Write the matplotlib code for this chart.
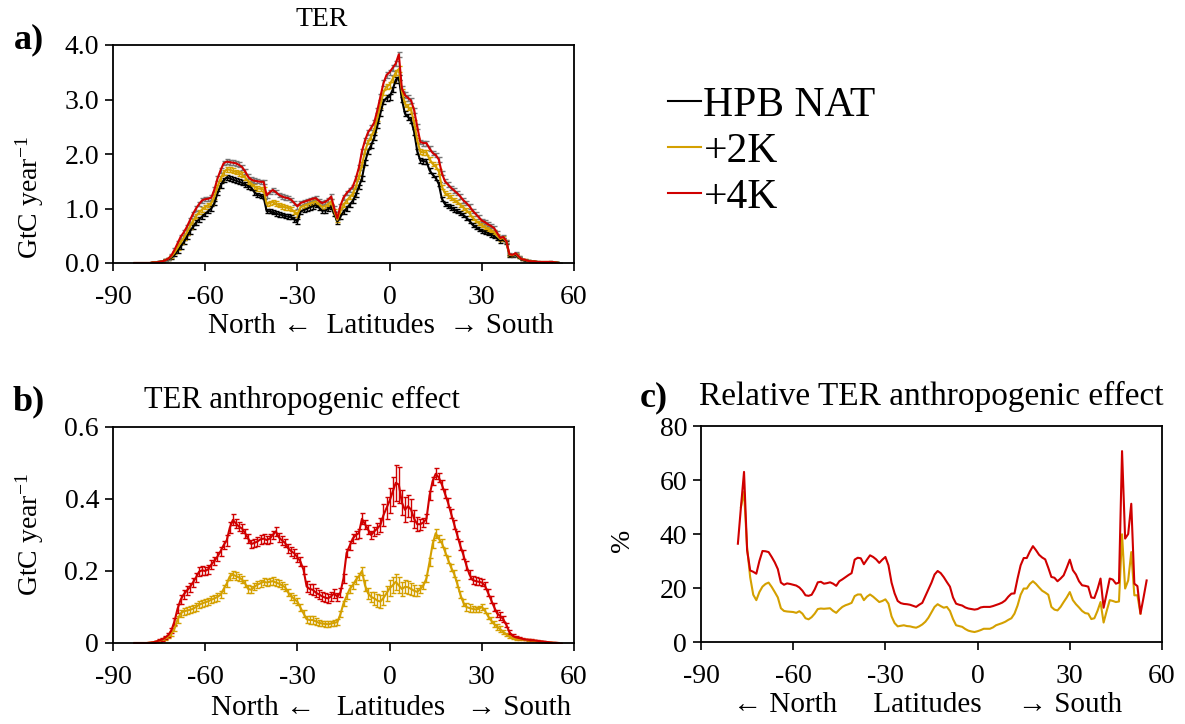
import numpy as np
import matplotlib
matplotlib.use('Agg')
import matplotlib.pyplot as plt
from matplotlib.lines import Line2D

plt.rcParams['font.family'] = ['Liberation Serif', 'DejaVu Serif']
plt.rcParams['axes.unicode_minus'] = False
plt.rcParams['mathtext.fontset'] = 'custom'
plt.rcParams['mathtext.rm'] = 'Liberation Serif'
plt.rcParams['mathtext.it'] = 'Liberation Serif:italic'

nan = np.nan

# Latitude grid (degrees)
lats = np.arange(-83, 56)

# ---- Panel a: TER (GtC year-1) ----
ter_nat = [
    0.00, 0.00, 0.00, 0.00, 0.00, 0.00, 0.01, 0.01, 0.02, 0.03,
    0.05, 0.07, 0.10, 0.15, 0.22, 0.30, 0.38, 0.48, 0.58, 0.66,
    0.74, 0.80, 0.85, 0.90, 0.95, 1.00, 1.10, 1.28, 1.42, 1.52,
    1.57, 1.55, 1.53, 1.51, 1.49, 1.47, 1.44, 1.41, 1.38, 1.30,
    1.25, 1.23, 1.21, 0.95, 0.95, 0.93, 0.91, 0.89, 0.88, 0.86,
    0.85, 0.84, 0.80, 0.76, 0.94, 0.97, 0.99, 1.02, 1.04, 1.06,
    1.02, 0.96, 0.96, 0.99, 1.03, 0.90, 0.76, 0.85, 0.94, 1.00,
    1.07, 1.14, 1.25, 1.40, 1.55, 1.85, 2.05, 2.16, 2.30, 2.52,
    2.75, 2.96, 3.03, 3.05, 3.18, 3.36, 3.40, 3.00, 2.74, 2.68,
    2.62, 2.40, 2.05, 1.88, 1.87, 1.86, 1.70, 1.62, 1.56, 1.45,
    1.18, 1.08, 1.05, 1.02, 0.98, 0.95, 0.92, 0.88, 0.83, 0.77,
    0.70, 0.66, 0.62, 0.59, 0.57, 0.55, 0.52, 0.49, 0.45, 0.41,
    0.43, 0.38, 0.13, 0.13, 0.15, 0.10, 0.06, 0.05, 0.04, 0.03,
    0.03, 0.02, 0.02, 0.01, 0.01, 0.02, 0.02, 0.01, 0.00]
ter_2k = [
    0.00, 0.00, 0.00, 0.00, 0.00, 0.00, 0.01, 0.01, 0.02, 0.03,
    0.05, 0.08, 0.12, 0.19, 0.28, 0.38, 0.46, 0.56, 0.67, 0.77,
    0.86, 0.93, 0.98, 1.03, 1.06, 1.10, 1.22, 1.40, 1.55, 1.66,
    1.72, 1.71, 1.69, 1.67, 1.65, 1.62, 1.57, 1.50, 1.46, 1.40,
    1.37, 1.36, 1.35, 1.08, 1.10, 1.12, 1.09, 1.06, 1.04, 1.02,
    1.01, 0.99, 0.94, 0.89, 1.02, 1.05, 1.07, 1.09, 1.11, 1.13,
    1.08, 1.03, 1.04, 1.08, 1.13, 0.95, 0.79, 0.95, 1.07, 1.14,
    1.21, 1.27, 1.40, 1.58, 1.80, 2.05, 2.22, 2.32, 2.44, 2.66,
    2.90, 3.13, 3.24, 3.27, 3.38, 3.50, 3.56, 3.15, 2.92, 2.86,
    2.81, 2.57, 2.25, 2.04, 2.03, 2.03, 1.90, 1.82, 1.77, 1.68,
    1.40, 1.28, 1.24, 1.20, 1.16, 1.12, 1.07, 1.02, 0.97, 0.91,
    0.83, 0.78, 0.73, 0.69, 0.66, 0.63, 0.60, 0.57, 0.50, 0.44,
    0.46, 0.39, 0.15, 0.14, 0.17, 0.11, 0.07, 0.06, 0.04, 0.03,
    0.03, 0.02, 0.02, 0.02, 0.02, 0.02, 0.02, 0.01, 0.00]
ter_4k = [
    0.00, 0.00, 0.00, 0.00, 0.00, 0.00, 0.01, 0.01, 0.02, 0.03,
    0.05, 0.08, 0.14, 0.24, 0.36, 0.48, 0.56, 0.66, 0.78, 0.90,
    1.00, 1.08, 1.15, 1.17, 1.18, 1.20, 1.35, 1.55, 1.70, 1.83,
    1.86, 1.85, 1.84, 1.83, 1.80, 1.76, 1.68, 1.58, 1.53, 1.51,
    1.50, 1.49, 1.49, 1.24, 1.30, 1.34, 1.30, 1.25, 1.22, 1.20,
    1.19, 1.16, 1.10, 1.04, 1.10, 1.12, 1.14, 1.16, 1.18, 1.19,
    1.14, 1.10, 1.12, 1.16, 1.22, 1.00, 0.82, 1.05, 1.20, 1.28,
    1.34, 1.40, 1.55, 1.75, 2.05, 2.25, 2.40, 2.48, 2.58, 2.80,
    3.05, 3.30, 3.45, 3.50, 3.58, 3.66, 3.83, 3.20, 3.08, 3.03,
    2.98, 2.80, 2.50, 2.22, 2.20, 2.20, 2.10, 2.02, 1.98, 1.90,
    1.65, 1.50, 1.44, 1.38, 1.33, 1.28, 1.22, 1.15, 1.10, 1.04,
    0.96, 0.90, 0.84, 0.78, 0.75, 0.71, 0.68, 0.64, 0.55, 0.46,
    0.48, 0.40, 0.16, 0.15, 0.18, 0.12, 0.07, 0.06, 0.04, 0.03,
    0.03, 0.02, 0.02, 0.02, 0.02, 0.02, 0.02, 0.01, 0.00]
ter_err = [
    0.0, 0.0, 0.0, 0.0, 0.0, 0.0, 0.005, 0.005, 0.01, 0.01,
    0.015, 0.02, 0.025, 0.03, 0.035, 0.04, 0.04, 0.04, 0.04, 0.04,
    0.04, 0.04, 0.04, 0.04, 0.04, 0.04, 0.04, 0.04, 0.04, 0.04,
    0.045, 0.045, 0.045, 0.045, 0.045, 0.045, 0.045, 0.045, 0.045, 0.045,
    0.04, 0.04, 0.04, 0.04, 0.04, 0.04, 0.04, 0.04, 0.04, 0.04,
    0.04, 0.04, 0.04, 0.04, 0.04, 0.04, 0.04, 0.04, 0.04, 0.04,
    0.04, 0.04, 0.04, 0.04, 0.04, 0.04, 0.04, 0.04, 0.04, 0.04,
    0.04, 0.04, 0.04, 0.04, 0.045, 0.045, 0.045, 0.045, 0.045, 0.05,
    0.05, 0.05, 0.05, 0.05, 0.05, 0.05, 0.05, 0.05, 0.05, 0.05,
    0.05, 0.05, 0.045, 0.045, 0.045, 0.045, 0.04, 0.04, 0.04, 0.04,
    0.04, 0.04, 0.04, 0.04, 0.04, 0.04, 0.04, 0.04, 0.04, 0.04,
    0.035, 0.035, 0.035, 0.035, 0.035, 0.035, 0.035, 0.035, 0.035, 0.035,
    0.03, 0.03, 0.02, 0.02, 0.02, 0.015, 0.01, 0.01, 0.01, 0.005,
    0.005, 0.005, 0.005, 0.005, 0.005, 0.005, 0.005, 0.0, 0.0]

# ---- Panel b: TER anthropogenic effect (GtC year-1) ----
eff_2k = [
    0.000, 0.000, 0.000, 0.000, 0.000, 0.001, 0.002, 0.004, 0.006, 0.009,
    0.013, 0.018, 0.026, 0.040, 0.065, 0.082, 0.088, 0.090, 0.092, 0.095,
    0.100, 0.106, 0.110, 0.113, 0.116, 0.120, 0.124, 0.128, 0.134, 0.150,
    0.165, 0.185, 0.190, 0.186, 0.182, 0.176, 0.165, 0.150, 0.148, 0.156,
    0.162, 0.166, 0.170, 0.168, 0.170, 0.172, 0.168, 0.165, 0.160, 0.155,
    0.140, 0.130, 0.122, 0.115, 0.098, 0.082, 0.066, 0.064, 0.064, 0.060,
    0.056, 0.054, 0.053, 0.052, 0.054, 0.056, 0.058, 0.080, 0.110, 0.130,
    0.150, 0.160, 0.175, 0.185, 0.200, 0.160, 0.138, 0.128, 0.124, 0.118,
    0.115, 0.125, 0.138, 0.152, 0.160, 0.170, 0.160, 0.150, 0.156, 0.155,
    0.150, 0.145, 0.142, 0.150, 0.160, 0.180, 0.225, 0.275, 0.305, 0.290,
    0.278, 0.255, 0.232, 0.210, 0.192, 0.165, 0.135, 0.112, 0.100, 0.097,
    0.095, 0.093, 0.095, 0.100, 0.090, 0.075, 0.063, 0.053, 0.045, 0.038,
    0.031, 0.024, 0.018, 0.014, 0.012, 0.011, 0.010, 0.009, 0.008, 0.007,
    0.006, 0.005, 0.004, 0.003, 0.002, 0.001, 0.001, 0.000, 0.000]
eff_4k = [
    0.000, 0.000, 0.000, 0.000, 0.000, 0.001, 0.002, 0.004, 0.007, 0.010,
    0.015, 0.022, 0.035, 0.060, 0.095, 0.120, 0.135, 0.145, 0.155, 0.168,
    0.182, 0.198, 0.202, 0.200, 0.205, 0.218, 0.228, 0.240, 0.255, 0.272,
    0.285, 0.320, 0.342, 0.332, 0.323, 0.318, 0.305, 0.290, 0.275, 0.278,
    0.282, 0.288, 0.290, 0.286, 0.290, 0.300, 0.310, 0.293, 0.285, 0.278,
    0.263, 0.255, 0.249, 0.238, 0.226, 0.203, 0.157, 0.150, 0.148, 0.140,
    0.135, 0.130, 0.126, 0.124, 0.130, 0.138, 0.128, 0.140, 0.180, 0.250,
    0.270, 0.290, 0.300, 0.305, 0.345, 0.330, 0.315, 0.300, 0.310, 0.318,
    0.328, 0.355, 0.375, 0.395, 0.420, 0.445, 0.440, 0.390, 0.370, 0.380,
    0.370, 0.345, 0.330, 0.330, 0.335, 0.345, 0.410, 0.450, 0.470, 0.460,
    0.440, 0.415, 0.390, 0.360, 0.330, 0.300, 0.270, 0.245, 0.215, 0.190,
    0.175, 0.172, 0.170, 0.168, 0.160, 0.140, 0.120, 0.100, 0.082, 0.075,
    0.066, 0.050, 0.030, 0.020, 0.016, 0.014, 0.012, 0.010, 0.009, 0.008,
    0.007, 0.006, 0.005, 0.004, 0.003, 0.002, 0.001, 0.001, 0.000]
eff_err_2k = [
    0.0, 0.0, 0.0, 0.0, 0.0, 0.0, 0.001, 0.001, 0.002, 0.003,
    0.004, 0.005, 0.006, 0.008, 0.010, 0.010, 0.010, 0.010, 0.010, 0.010,
    0.010, 0.010, 0.010, 0.010, 0.010, 0.010, 0.010, 0.010, 0.010, 0.010,
    0.010, 0.010, 0.010, 0.010, 0.010, 0.010, 0.010, 0.010, 0.010, 0.010,
    0.010, 0.010, 0.010, 0.010, 0.010, 0.010, 0.010, 0.010, 0.010, 0.010,
    0.010, 0.010, 0.010, 0.010, 0.010, 0.010, 0.010, 0.010, 0.010, 0.010,
    0.008, 0.008, 0.008, 0.008, 0.008, 0.008, 0.008, 0.008, 0.008, 0.008,
    0.010, 0.010, 0.010, 0.010, 0.012, 0.015, 0.015, 0.015, 0.018, 0.018,
    0.018, 0.020, 0.020, 0.022, 0.022, 0.022, 0.022, 0.020, 0.018, 0.018,
    0.018, 0.015, 0.012, 0.012, 0.010, 0.010, 0.010, 0.010, 0.012, 0.010,
    0.010, 0.010, 0.010, 0.010, 0.010, 0.010, 0.010, 0.010, 0.010, 0.010,
    0.008, 0.008, 0.008, 0.008, 0.008, 0.008, 0.008, 0.008, 0.008, 0.008,
    0.006, 0.005, 0.004, 0.003, 0.003, 0.002, 0.002, 0.002, 0.002, 0.002,
    0.001, 0.001, 0.001, 0.001, 0.001, 0.001, 0.0, 0.0, 0.0]
eff_err_4k = [
    0.0, 0.0, 0.0, 0.0, 0.0, 0.0, 0.001, 0.002, 0.003, 0.004,
    0.005, 0.006, 0.008, 0.010, 0.012, 0.012, 0.012, 0.012, 0.012, 0.012,
    0.012, 0.012, 0.012, 0.012, 0.012, 0.012, 0.012, 0.012, 0.012, 0.012,
    0.015, 0.015, 0.015, 0.012, 0.012, 0.012, 0.012, 0.012, 0.012, 0.012,
    0.012, 0.012, 0.012, 0.012, 0.012, 0.012, 0.012, 0.012, 0.012, 0.012,
    0.012, 0.012, 0.012, 0.012, 0.012, 0.012, 0.015, 0.015, 0.015, 0.012,
    0.012, 0.012, 0.012, 0.012, 0.012, 0.012, 0.012, 0.012, 0.012, 0.012,
    0.012, 0.012, 0.012, 0.012, 0.015, 0.012, 0.012, 0.012, 0.012, 0.015,
    0.020, 0.030, 0.030, 0.035, 0.040, 0.050, 0.050, 0.035, 0.035, 0.030,
    0.030, 0.025, 0.020, 0.015, 0.012, 0.012, 0.012, 0.012, 0.015, 0.012,
    0.012, 0.012, 0.012, 0.012, 0.012, 0.012, 0.012, 0.012, 0.012, 0.012,
    0.010, 0.010, 0.010, 0.010, 0.010, 0.010, 0.010, 0.010, 0.010, 0.010,
    0.008, 0.006, 0.005, 0.004, 0.003, 0.003, 0.002, 0.002, 0.002, 0.002,
    0.002, 0.001, 0.001, 0.001, 0.001, 0.001, 0.0, 0.0, 0.0]

# ---- Panel c: relative TER anthropogenic effect (%) ----
rel_2k = [
    nan, nan, nan, nan, nan, nan, 50.0, 55.6, 35.0, 24.0,
    17.5, 15.5, 18.5, 20.5, 21.5, 22.0, 20.4, 18.5, 16.5, 12.5,
    11.5, 11.3, 11.2, 11.1, 10.8, 11.4, 10.5, 8.8, 8.4, 9.2,
    10.5, 12.2, 12.4, 12.3, 12.4, 12.5, 11.5, 10.8, 12.0, 13.0,
    13.6, 14.0, 14.5, 17.0, 17.6, 17.6, 15.5, 16.8, 17.6, 16.8,
    15.8, 14.8, 15.2, 15.8, 14.2, 9.5, 7.0, 5.8, 6.0, 6.2,
    5.9, 5.8, 5.5, 5.3, 5.8, 6.5, 7.5, 9.0, 11.0, 13.0,
    14.0, 13.3, 12.7, 13.0, 11.5, 8.5, 6.2, 5.9, 5.6, 4.8,
    4.2, 3.9, 3.7, 4.0, 4.4, 4.9, 4.9, 4.9, 5.4, 6.2,
    6.6, 7.0, 7.5, 8.2, 8.8, 10.5, 13.5, 17.5, 19.8, 19.8,
    21.5, 22.5, 21.5, 20.2, 19.0, 18.3, 17.5, 13.0, 12.0, 11.7,
    13.0, 14.8, 16.5, 18.5, 15.5, 14.0, 12.8, 11.5, 10.7, 10.5,
    8.5, 8.8, 11.5, 14.8, 7.2, 11.5, 15.5, 15.2, 14.8, 15.0,
    39.9, 19.8, 22.8, 33.3, 17.3, 17.3, 10.5, nan, nan]
rel_4k = [
    nan, nan, nan, nan, nan, 36.4, 50.0, 63.0, 34.0, 26.5,
    26.0, 25.3, 30.0, 33.7, 33.6, 33.3, 31.5, 29.5, 27.0, 22.0,
    21.2, 21.7, 21.5, 21.2, 20.9, 20.2, 19.0, 17.3, 17.1, 17.5,
    19.5, 22.1, 22.3, 21.6, 21.8, 22.1, 21.6, 20.8, 22.5, 23.2,
    24.0, 24.8, 25.5, 30.5, 31.2, 31.0, 28.8, 30.5, 32.1, 31.5,
    30.6, 29.3, 30.5, 31.5, 28.4, 22.0, 18.0, 15.2, 14.4, 14.1,
    14.0, 13.8, 13.4, 13.0, 13.8, 14.5, 17.0, 19.5, 22.0, 25.0,
    26.3, 25.5, 24.0, 22.2, 20.5, 16.5, 14.2, 13.8, 13.5, 12.8,
    12.4, 12.2, 12.0, 12.2, 12.8, 13.0, 13.0, 13.0, 13.3, 13.7,
    14.1, 14.6, 15.4, 16.8, 17.9, 18.0, 23.5, 28.4, 31.1, 31.1,
    33.5, 35.5, 34.0, 32.3, 31.3, 30.6, 27.5, 24.1, 23.8, 22.5,
    23.5, 24.7, 27.5, 30.5, 26.6, 25.0, 22.5, 21.0, 20.8, 20.5,
    16.5, 16.3, 19.5, 23.5, 12.7, 18.0, 23.5, 23.1, 21.6, 22.0,
    70.7, 38.3, 40.0, 51.2, 21.6, 20.7, 10.5, 16.5, 22.8]

xticks = [-90, -60, -30, 0, 30, 60]
series_labels = ['HPB NAT', '+2K', '+4K']

C_NAT = '#000000'
C_2K = '#d4a000'
C_4K = '#d00000'
C_4K_ERR = '#777777'

W, H = 1185, 724
fig = plt.figure(figsize=(W / 100, H / 100), dpi=100)


def add_ax(left, top, right, bottom):
    return fig.add_axes([left / W, 1 - bottom / H, (right - left) / W, (bottom - top) / H])


def style(ax):
    ax.set_xlim(-90, 60)
    ax.set_xticks(xticks)
    ax.set_xticklabels([str(t) for t in xticks])
    ax.tick_params(direction='out', length=6, width=1.2, labelsize=20,
                   top=False, right=False, pad=4, colors='black')
    ax.tick_params(axis='x', pad=10)
    for s in ax.spines.values():
        s.set_linewidth(1.3)
        s.set_color('black')


ax_a = add_ax(113, 45, 574, 263)
ax_b = add_ax(113, 427, 574, 643)
ax_c = add_ax(701, 426, 1162, 642)
for ax in (ax_a, ax_b, ax_c):
    style(ax)

# Panel a
eb = dict(capsize=1.8, capthick=1.0, elinewidth=1.0, lw=1.5)
ax_a.errorbar(lats, ter_nat, yerr=ter_err, color=C_NAT, ecolor=C_NAT, **eb)
ax_a.errorbar(lats, ter_2k, yerr=ter_err, color=C_2K, ecolor=C_2K, **eb)
ax_a.errorbar(lats, ter_4k, yerr=ter_err, color=C_4K, ecolor=C_4K_ERR, **eb)
ax_a.set_ylim(0, 4)
ax_a.set_yticks([0, 1, 2, 3, 4])
ax_a.set_yticklabels(['0.0', '1.0', '2.0', '3.0', '4.0'])

# Panel b
ax_b.errorbar(lats, eff_2k, yerr=eff_err_2k, color=C_2K, ecolor=C_2K, **eb)
ax_b.errorbar(lats, eff_4k, yerr=eff_err_4k, color=C_4K, ecolor=C_4K, **eb)
ax_b.set_ylim(0, 0.6)
ax_b.set_yticks([0, 0.2, 0.4, 0.6])
ax_b.set_yticklabels(['0', '0.2', '0.4', '0.6'])

# Panel c
ax_c.plot(lats, rel_2k, color=C_2K, lw=1.5)
ax_c.plot(lats, rel_4k, color=C_4K, lw=1.5)
ax_c.set_ylim(0, 80)
ax_c.set_yticks([0, 20, 40, 60, 80])


def ftext(x, y, s, **kw):
    fig.text(x / W, 1 - y / H, s, ha='center', va='center', **kw)


ylab = r'GtC year$^{\mathregular{-1}}$'
ftext(322, 19, 'TER', fontsize=20)
ftext(302, 400, 'TER anthropogenic effect', fontsize=22)
ftext(931, 396, 'Relative TER anthropogenic effect', fontsize=24)
ftext(29, 40, 'a)', fontsize=26, fontweight='bold')
ftext(29, 402, 'b)', fontsize=26, fontweight='bold')
ftext(654, 398, 'c)', fontsize=26, fontweight='bold')
ftext(381, 326, 'North \u2190  Latitudes  \u2192 South', fontsize=21)
ftext(391, 708, 'North \u2190   Latitudes   \u2192 South', fontsize=21)
ftext(928, 705, '\u2190 North     Latitudes     \u2192 South', fontsize=21)
ftext(30, 198, ylab, fontsize=20, rotation=90)
ftext(30, 535, ylab, fontsize=20, rotation=90)
ftext(622, 540, '%', fontsize=20, rotation=90)

handles = [Line2D([], [], color=c, lw=1.5) for c in (C_NAT, C_2K, C_4K)]
fig.legend(handles, series_labels, loc='upper left',
           bbox_to_anchor=(668 / W, 1 - 86 / H), frameon=False, fontsize=30,
           handlelength=0.8, handletextpad=0.05, labelspacing=0.18,
           borderaxespad=0, borderpad=0)

fig.savefig('out.png', dpi=100)
